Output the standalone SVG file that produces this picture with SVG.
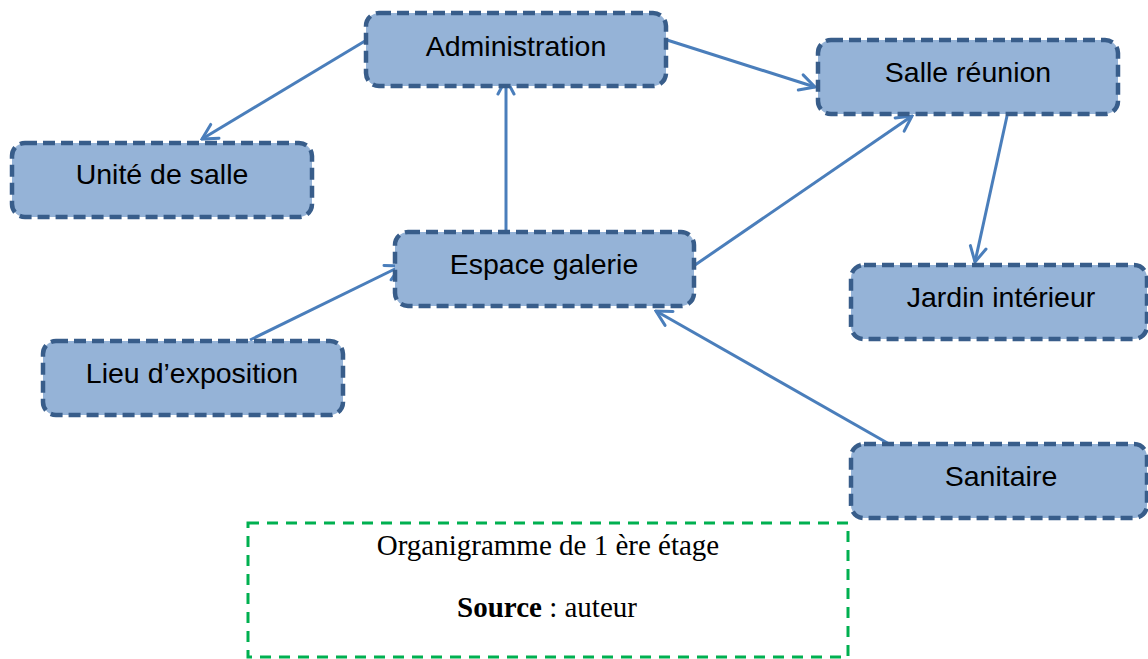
<svg xmlns="http://www.w3.org/2000/svg" width="1148" height="659" viewBox="0 0 1148 659">
  <style>
    .node rect { fill: #95B3D7; stroke: #385D8A; stroke-width: 4.5; stroke-dasharray: 12 6; }
    .node text { font-family: "Liberation Sans", Arial, sans-serif; font-size: 28.5px; fill: #000; text-anchor: middle; }
    .edge { stroke: #4A7EBB; stroke-width: 3; fill: none; marker-end: url(#arrow); }
    .caption rect { fill: none; stroke: #00B050; stroke-width: 3; stroke-dasharray: 11 8; }
    .caption text { font-family: "Liberation Serif", "Times New Roman", serif; font-size: 29px; fill: #000; text-anchor: middle; }
  </style>
  <defs>
    <marker id="arrow" markerUnits="userSpaceOnUse" viewBox="-18 -10 20 20" refX="0" refY="0" markerWidth="20" markerHeight="20" orient="auto">
      <path d="M -15 -8 L 0 0 L -15 8" fill="none" stroke="#4A7EBB" stroke-width="3" stroke-linecap="round" stroke-linejoin="miter"/>
    </marker>
  </defs>

  <rect width="1148" height="659" fill="#fff"/>

  <!-- connectors -->
  <g id="connectors">
    <line class="edge" x1="365" y1="41" x2="202" y2="139"/>
    <line class="edge" x1="667" y1="40" x2="815" y2="87"/>
    <line class="edge" x1="506" y1="230" x2="506" y2="79"/>
    <line class="edge" x1="695" y1="265" x2="912" y2="116"/>
    <line class="edge" x1="1007" y1="116" x2="975" y2="262"/>
    <line class="edge" x1="250" y1="340" x2="401" y2="266"/>
    <line class="edge" x1="898" y1="449" x2="656" y2="311"/>
  </g>

  <!-- nodes -->
  <g id="administration" class="node">
    <rect x="366" y="13" width="300" height="73" rx="13"/>
    <text x="516" y="56">Administration</text>
  </g>
  <g id="unite-de-salle" class="node">
    <rect x="12" y="143" width="300" height="74" rx="13"/>
    <text x="162" y="184">Unité de salle</text>
  </g>
  <g id="espace-galerie" class="node">
    <rect x="395" y="232" width="299" height="74" rx="13"/>
    <text x="544" y="274">Espace galerie</text>
  </g>
  <g id="salle-reunion" class="node">
    <rect x="818" y="40" width="300" height="74" rx="13"/>
    <text x="968" y="82">Salle réunion</text>
  </g>
  <g id="jardin-interieur" class="node">
    <rect x="851" y="265" width="296" height="74" rx="13"/>
    <text x="1001" y="307">Jardin intérieur</text>
  </g>
  <g id="lieu-exposition" class="node">
    <rect x="43" y="341" width="300" height="74" rx="13"/>
    <text x="192" y="383">Lieu d’exposition</text>
  </g>
  <g id="sanitaire" class="node">
    <rect x="851" y="444" width="296" height="74" rx="13"/>
    <text x="1001" y="486">Sanitaire</text>
  </g>

  <!-- caption -->
  <g id="caption" class="caption">
    <rect x="248" y="523" width="600" height="134"/>
    <text x="548" y="555">Organigramme de 1 ère étage</text>
    <text x="547" y="617"><tspan font-weight="bold">Source</tspan> : auteur</text>
  </g>
</svg>
